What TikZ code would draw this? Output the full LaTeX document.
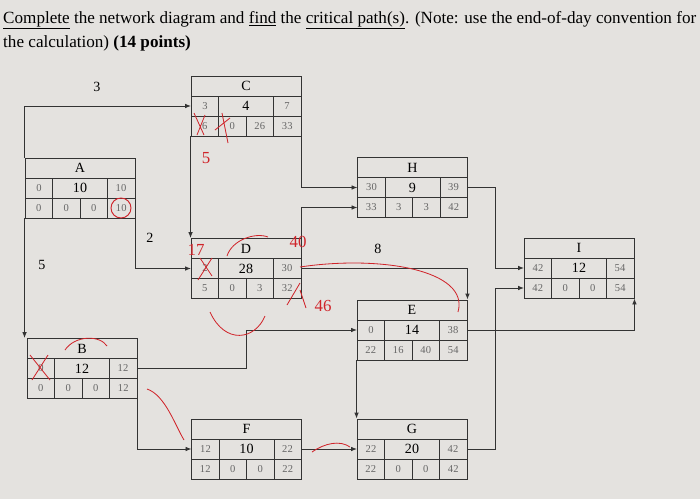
\documentclass[tikz,border=0pt]{standalone}
\usepackage{fontspec}
\setmainfont{Liberation Serif}
\usepackage{tikz}
\usetikzlibrary{arrows.meta}
\definecolor{paper}{HTML}{E4E2DF}
\definecolor{ink}{HTML}{333333}
\definecolor{pencil}{HTML}{666666}
\definecolor{pen}{HTML}{D0242A}
\tikzset{
  link/.style={draw=ink, line width=0.8pt, -{Latex[length=1.8mm,width=1.4mm]}},
  val/.style={text=pencil, font=\small},
  redmark/.style={text=pen, font=\Large},
}

\begin{document}
\begin{tikzpicture}[x=0.03cm, y=-0.03cm]
              \fill[paper] (0,0) rectangle (700,499);
              \newcommand{\actbox}[7]
              {%
                \begin{scope}[shift={#2}]
                  \node[draw=ink, line width=0.8pt, minimum width=3.3cm, minimum height=1.8cm, inner sep=0pt] (#1) at (0, 0) {};
                  \draw[ink, line width=0.7pt] (-55, -10) -- (55, -10) (-55, 10) -- (55, 10)
                    (-27.5, -10) -- (-27.5, 30) (27.5, -10) -- (27.5, 30) (0, 10) -- (0, 30);
                  \node[font=\large] at (0, -20) {#3};
                  \node[val] at (-41, 0) {#5};
                  \node[font=\large] at (0, 0) {#4};
                  \node[val] at (41, 0) {#6};
                  \foreach \v [count=\i] in {#7} {\node[val] at ({-55+27.5*(\i-0.5)}, 20) {\v};}
                  \coordinate (#1w2) at (-55, 0);
                  \coordinate (#1e2) at (55, 0);
                  \coordinate (#1w3) at (-55, 20);
                  \coordinate (#1e3) at (55, 20);
                \end{scope}%
              }%
              \node[anchor=north west, align=left, inner sep=0pt, font=\fontsize{14.6}{21}\selectfont] (title) at (3, 11)
                {\underline{Complete} the network diagram and \underline{find} the \underline{critical path(s)}. (Note: use the end-of-day convention for\\the calculation) \textbf{(14 points)}};
              \actbox{A}{(80, 188)}{A}{10}{0}{10}{0,0,0,10}
              \actbox{C}{(246, 106)}{C}{4}{3}{7}{6,0,26,33}
              \actbox{D}{(246, 268.5)}{D}{28}{2}{30}{5,0,3,32}
              \actbox{H}{(412.5, 187.5)}{H}{9}{30}{39}{33,3,3,42}
              \actbox{I}{(579, 268)}{I}{12}{42}{54}{42,0,0,54}
              \actbox{E}{(412, 330)}{E}{14}{0}{38}{22,16,40,54}
              \actbox{B}{(82, 368.5)}{B}{12}{0}{12}{0,0,0,12}
              \actbox{F}{(246.5, 449)}{F}{10}{12}{22}{12,0,0,22}
              \actbox{G}{(412, 449)}{G}{20}{22}{42}{22,0,0,42}
              % connectors
              \coordinate (bend) at (246, 0);
              \coordinate (join) at (495, 0);
              \draw[link] (A.north west) |- (Cw2);
              \draw[link] (A.south east) |- (Dw2);
              \draw[link] (A.south west) -- (A.south west |- B.north);
              \draw[link] (C.south west) -- (C.south west |- D.north);
              \draw[link] (C.south east) |- (Hw2);
              \draw[link] (D.north east) |- (Hw3);
              \draw[link] (De2) -| (E.north east);
              \draw[link] (Be2) -| (bend |- Be2) |- (Ew2);
              \draw[link] (B.south east) |- (Fw2);
              \draw[link] (Fe2) -- (Gw2);
              \draw[link] (E.south west) -- (E.south west |- G.north);
              \draw[link] (He2) -| (join |- Iw2) -- (Iw2);
              \draw[link] (Ge2) -| (join |- Iw3) -- (Iw3);
              \draw[link] (Ee2) -| (I.south east);
              % lag labels
              \node[font=\large] (lag3) at (97, 87) {3};
              \node[font=\large] (lag2) at (150, 238) {2};
              \node[font=\large] (lag5) at (42, 265) {5};
              \node[font=\large] (lag8) at (378, 249) {8};
              % red pen marks
              \draw[pen, line width=0.8pt] (121, 208) circle (10);
              \node[redmark] (m5) at (206, 158) {5};
              \node[redmark] (m17) at (196, 250) {17};
              \node[redmark] (m40) at (298, 242) {40};
              \node[redmark] (m46) at (323, 306) {46};
              \draw[pen, line width=0.7pt] (200, 258) -- (212, 276) (212, 258) -- (198, 280);
              \draw[pen, line width=0.7pt] (194, 113) -- (204, 135) (205, 115) -- (197, 135);
              \draw[pen, line width=0.7pt] (222, 113) -- (228, 143) (230, 118) -- (215, 130);
              \draw[pen, line width=0.7pt] (300, 283) -- (287, 305) (300, 290) -- (306, 308);
              \draw[pen, line width=0.7pt] (30, 355) -- (50, 380) (48, 355) -- (32, 380);
              \draw[pen, line width=0.7pt] (265, 316) .. controls (255, 340) and (225, 345) .. (210, 312);
              \draw[pen, line width=0.7pt] (147, 389) .. controls (165, 395) and (175, 425) .. (184, 440);
              \draw[pen, line width=0.7pt] (300, 267) .. controls (380, 255) and (470, 270) .. (458, 312);
              \draw[pen, line width=0.7pt] (65, 350) .. controls (75, 335) and (100, 335) .. (107, 346);
              \draw[pen, line width=0.7pt] (227, 256) .. controls (232, 240) and (255, 232) .. (268, 237);
              \draw[pen, line width=0.7pt] (312, 452) .. controls (325, 443) and (340, 440) .. (350, 447);
\end{tikzpicture}
\end{document}
